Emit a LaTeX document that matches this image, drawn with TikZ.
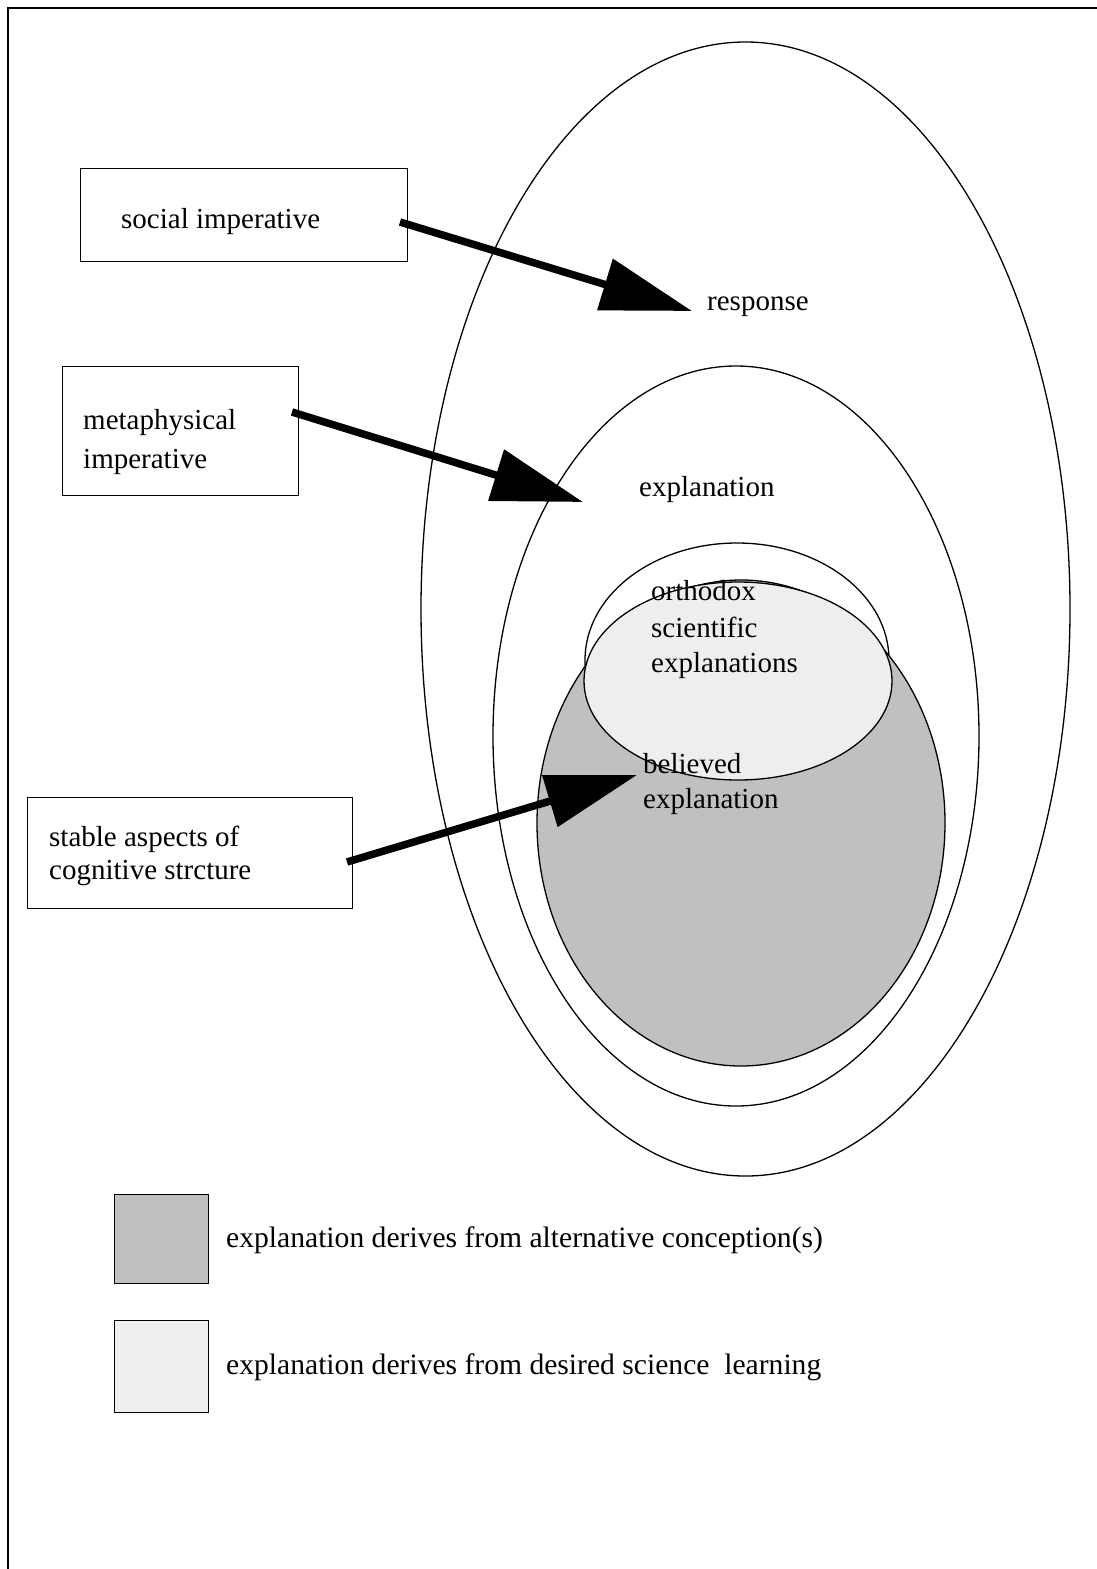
\documentclass[tikz,border=0pt]{standalone}
\usepackage{fontspec}
\setmainfont{Liberation Serif}
\usetikzlibrary{arrows.meta}
\definecolor{altgray}{HTML}{C0C0C0}
\definecolor{scigray}{HTML}{EEEEEE}
\begin{document}
\begin{tikzpicture}[x=1pt,y=-1pt,
  oval/.style={draw, line width=1.3pt},
  box/.style={draw, line width=1.3pt, inner sep=0pt, anchor=north west},
  lbl/.style={anchor=base west, inner sep=0pt, font=\fontsize{29}{34}\selectfont},
  leglbl/.style={lbl, font=\fontsize{29.6}{34}\selectfont},
  bigarrow/.style={line width=7.5pt, -{Triangle[length=91pt,width=52pt]}}]
\useasboundingbox (0,0) rectangle (1096,1569);
\fill[white] (0,0) rectangle (1096,1569);
\draw[line width=2pt] (8,1580) -- (8,8) -- (1105,8);

% ellipses
\coordinate (cresp) at (745.5,609);
\coordinate (cexpl) at (736,736);
\coordinate (corthoout) at (737,660);
\coordinate (cbel) at (741,823);
\coordinate (corth) at (738,681);
\draw[oval, fill=white] (cresp) ellipse [x radius=324.5, y radius=567];
\draw[oval, fill=white] (cexpl) ellipse [x radius=243, y radius=370];
\draw[oval, fill=white] (corthoout) ellipse [x radius=152, y radius=117];
\draw[oval, fill=altgray] (cbel) ellipse [x radius=204, y radius=243];
\draw[oval, fill=scigray] (corth) ellipse [x radius=154, y radius=99];

% boxes
\node[box, minimum width=327pt, minimum height=93pt] (social) at (80,168) {};
\node[box, minimum width=236pt, minimum height=129pt] (meta) at (62,366) {};
\node[box, minimum width=325pt, minimum height=111pt] (stable) at (27,797) {};
\node[box, fill=altgray, minimum width=94pt, minimum height=89pt] (legalt) at (114,1194) {};
\node[box, fill=scigray, minimum width=94pt, minimum height=92pt] (legsci) at (114,1320) {};

% arrows
\coordinate (s1) at (400,222);
\coordinate (t1) at (692,311);
\coordinate (s2) at (292,412);
\coordinate (t2) at (583,502);
\coordinate (s3) at (347,862);
\coordinate (t3) at (637,775);
\draw[bigarrow] (s1) -- (t1);
\draw[bigarrow] (s2) -- (t2);
\draw[bigarrow] (s3) -- (t3);

% texts
\node[lbl] (tsocial) at (121,228) {social imperative};
\node[lbl] (tmeta1) at (83,429) {metaphysical};
\node[lbl] (tmeta2) at (83,468) {imperative};
\node[lbl] (tstab1) at (49,846) {stable aspects of};
\node[lbl] (tstab2) at (49,879) {cognitive strcture};
\node[lbl] (tresp) at (707,310) {response};
\node[lbl] (texpl) at (639,496) {explanation};
\node[lbl] (torth1) at (651,600) {orthodox};
\node[lbl] (torth2) at (651,637) {scientific};
\node[lbl] (torth3) at (651,672) {explanations};
\node[lbl] (tbel1) at (643,773) {believed};
\node[lbl] (tbel2) at (643,808) {explanation};
\node[leglbl] (tlegalt) at (226,1247) {explanation derives from alternative conception(s)};
\node[leglbl] (tlegsci) at (226,1374) {explanation derives from desired science\ \ learning};
\end{tikzpicture}
\end{document}
